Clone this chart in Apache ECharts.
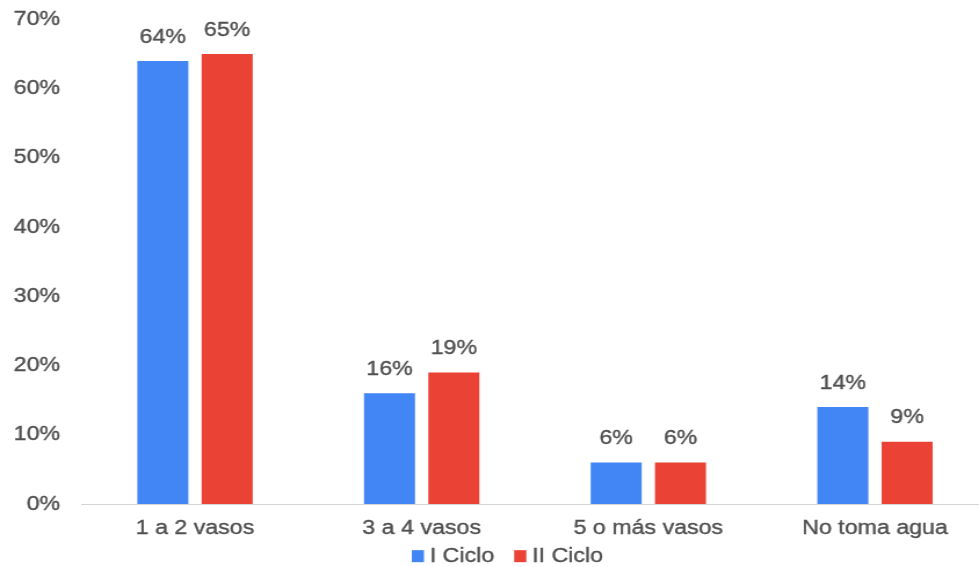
<!DOCTYPE html>
<html>
<head>
<meta charset="utf-8">
<script src="https://cdn.jsdelivr.net/npm/echarts@6/dist/echarts.min.js"></script>
<style>
  html, body { margin: 0; padding: 0; background: #fff; overflow: hidden; }
  /* the chart is laid out narrower and widened horizontally, giving the wide lettering */
  #chart { width: 860px; height: 567px; transform: scaleX(1.16); transform-origin: 0 0; }
</style>
</head>
<body>
<div id="chart"></div>
<script>
const categories = ['1 a 2 vasos', '3 a 4 vasos', '5 o más vasos', 'No toma agua'];
const cicloI = [64, 16, 6, 14];
const cicloII = [65, 19, 6, 9];
const seriesNames = ['I Ciclo', 'II Ciclo'];
const yTicks = [0, 10, 20, 30, 40, 50, 60, 70];

const textColor = '#4f4f4f';
const fontFamily = '"Liberation Sans", Arial, sans-serif';
// a hairline outline in the text colour makes the lettering a touch heavier
const textWeight = { textBorderColor: textColor, textBorderWidth: 0.35 };

const chart = echarts.init(document.getElementById('chart'), null, { renderer: 'canvas' });

const labelStyle = Object.assign({
  show: true,
  position: 'top',
  distance: 14,
  color: textColor,
  fontSize: 20,
  fontFamily: fontFamily,
  formatter: p => p.value + '%'
}, textWeight);

chart.setOption({
  animation: false,
  backgroundColor: '#ffffff',
  grid: { left: 70.4, right: 8, top: 19.5, bottom: 63, containLabel: false },
  legend: {
    data: seriesNames,
    left: 350,
    top: 541,
    icon: 'rect',
    itemWidth: 10.5,
    itemHeight: 12,
    itemGap: 17,
    textStyle: Object.assign({ color: textColor, fontSize: 20, fontFamily: fontFamily }, textWeight)
  },
  xAxis: {
    type: 'category',
    data: categories,
    axisLine: { lineStyle: { color: '#d4d4d4', width: 1 } },
    axisTick: { show: false },
    axisLabel: Object.assign({ color: textColor, fontSize: 20, fontFamily: fontFamily, margin: 14, interval: 0 }, textWeight)
  },
  yAxis: {
    type: 'value',
    min: yTicks[0],
    max: yTicks[yTicks.length - 1],
    interval: 10,
    splitLine: { show: false },
    axisLine: { show: false },
    axisTick: { show: false },
    axisLabel: Object.assign({ color: textColor, fontSize: 20, fontFamily: fontFamily, margin: 18.5, formatter: v => v + '%' }, textWeight)
  },
  series: [
    {
      name: seriesNames[0],
      type: 'bar',
      data: cicloI,
      barWidth: 44,
      barGap: '26%',
      itemStyle: { color: '#4285f4' },
      label: labelStyle
    },
    {
      name: seriesNames[1],
      type: 'bar',
      data: cicloII,
      barWidth: 44,
      barGap: '26%',
      itemStyle: { color: '#ea4335' },
      label: labelStyle
    }
  ]
});
</script>
</body>
</html>
